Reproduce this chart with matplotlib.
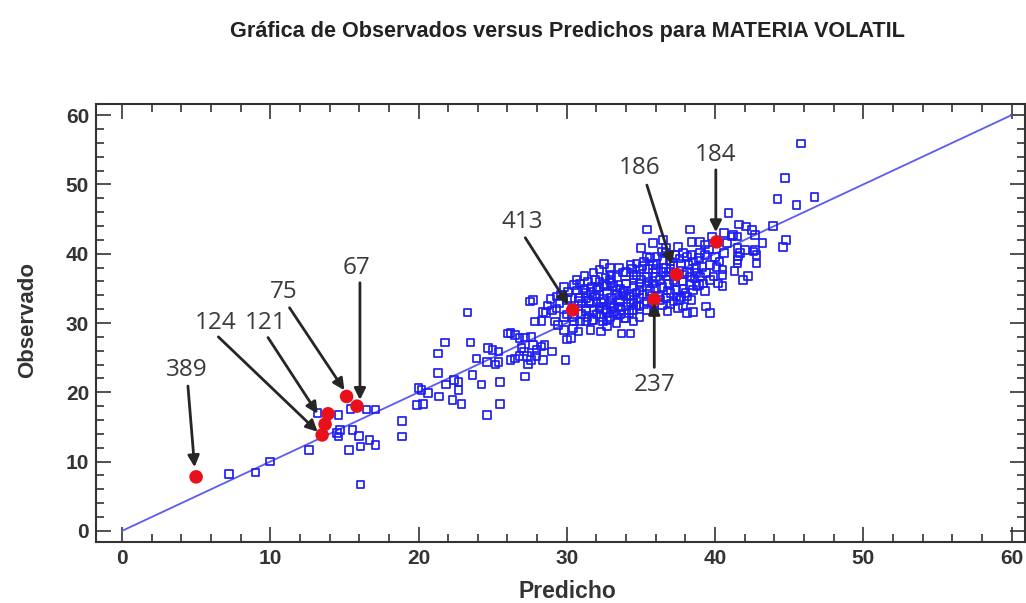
import matplotlib
matplotlib.use("Agg")
import matplotlib.pyplot as plt
from matplotlib.ticker import MultipleLocator

# Predicted (x) and observed (y) values of volatile matter for the sample
predicho = [
    7.2, 9.0, 10.0, 12.6,
    13.2, 14.6, 15.4, 16.5, 17.1,
    14.5, 14.6, 14.7, 15.55, 16.0, 16.7, 17.1, 15.3, 16.1, 16.1,
    18.9, 18.9,
    20.0, 20.2, 20.65, 19.9, 20.3,
    23.3, 26.05, 21.8, 23.5, 21.3, 24.7, 25.0, 25.4, 23.9, 24.6, 25.2, 25.4,
    21.3, 23.65, 22.4, 22.7, 21.85, 22.7, 24.25, 25.5, 21.4, 22.3, 22.9, 25.5, 24.6,
    27.5, 27.7, 28.4, 28.6, 27.85, 28.3, 29.2, 29.4, 29.8,
    26.2, 26.5, 26.8, 27.2, 27.6,
    26.95, 27.1, 27.7, 28.3, 28.5, 27.95,
    26.2, 26.5, 26.8, 27.3, 27.6, 27.95, 28.4, 29.0, 27.4, 29.9, 27.2,
    30.3, 30.4, 30.8, 30.0,
    31.6, 32.3, 32.7, 33.7, 34.3,
    30.5, 31.3, 31.8, 32.45, 32.7, 33.35, 34.5,
    30.65, 31.45, 31.9, 32.2, 32.6, 32.9,
    31.1, 31.6,
    30.9, 31.3, 31.9, 32.2, 32.7, 30.0, 30.3,
    30.0, 30.4, 31.3, 31.8, 32.2,
    30.9, 31.7, 32.9, 33.6, 33.9,
    33.2, 33.6, 34.3, 34.5, 34.4,
    33.1, 33.6, 34.0, 34.5, 34.7,
    32.2, 32.9, 34.3, 34.7,
    35.4, 40.9, 38.3, 41.6, 42.1, 42.5, 42.7, 41.2, 41.5,
    38.4, 39.0, 39.3, 40.8,
    41.5, 41.7, 41.55, 42.0, 42.7, 42.8, 41.5,
    35.0, 36.4, 36.7, 37.85, 38.1, 38.4, 39.0, 39.3, 38.9,
    39.1, 39.65, 40.1, 40.5, 40.3,
    38.75, 39.4, 39.9, 40.5, 40.5, 40.2,
    36.3, 36.7, 37.2, 37.6, 38.1, 38.4,
    37.4, 37.85, 38.3, 38.75, 39.2, 39.65,
    34.0, 34.5, 34.9, 35.4, 35.8, 36.3, 34.9, 34.5, 34.0, 35.4, 35.8, 36.5,
    34.0, 34.5, 34.9, 35.4, 33.6, 34.0, 34.5,
    36.5, 36.95, 36.05, 35.6, 35.2,
    36.7, 37.2, 37.85, 38.3, 38.1, 38.75,
    38.1, 38.5, 37.85, 39.65, 39.4,
    45.8, 44.7, 44.2, 46.7, 45.5, 43.9,
    43.2, 44.8, 44.6, 41.5, 42.6, 42.8, 41.1,
    35.4, 35.8, 36.7,
    31.3, 32.0, 32.7, 33.35, 33.8, 34.9,
    31.6, 32.2, 32.9, 33.6, 34.3, 34.9, 35.4,
    31.3, 32.0, 32.7, 33.35, 34.9, 34.0, 37.4,
    38.5, 38.9,
    29.5, 29.3, 29.8, 29.3, 30.1, 30.9,
    41.3, 42.2, 41.9,
    31.0, 31.5, 32.0, 32.5, 33.0, 33.4, 33.9, 34.2, 34.7, 35.1, 35.6, 36.0,
    36.4, 36.9, 37.3, 37.0, 36.2, 35.7, 35.2, 34.7, 34.2, 33.7, 33.2, 32.6,
    32.3, 31.4, 31.0,
    35.0, 35.5, 36.0, 36.0, 35.5, 35.1, 34.4, 33.8, 33.4, 33.0, 32.5, 32.1,
    31.7, 31.2, 30.7,
    36.9, 37.2, 37.7, 38.2, 38.5, 37.6, 37.3, 36.1, 36.7, 37.5, 37.0, 37.9,
    38.6, 39.0, 39.3, 38.0, 37.7, 36.8,
    35.8, 36.5, 39.6, 40.0, 40.6, 39.8, 40.6,
    33.0, 33.5, 32.5, 31.8, 31.2, 30.5, 29.8, 29.6, 28.9, 28.7, 29.0,
    30.8, 32.3, 33.0, 35.9, 36.4, 37.0, 37.5, 36.8,
]
observado = [
    8.2, 8.4, 10.0, 11.7,
    17.0, 16.7, 17.6, 17.5, 17.5,
    14.1, 13.6, 14.6, 14.6, 13.7, 13.1, 12.4, 11.7, 12.2, 6.7,
    15.9, 13.6,
    20.6, 20.3, 19.9, 18.2, 18.3,
    31.5, 28.5, 27.2, 27.2, 25.6, 26.4, 26.1, 25.9, 24.9, 24.4, 24.0, 24.4,
    22.8, 22.5, 21.8, 21.5, 21.1, 20.3, 21.1, 21.5, 19.4, 18.9, 18.3, 18.3, 16.7,
    33.1, 33.3, 31.6, 31.4, 30.2, 30.3, 30.2, 29.7, 29.0,
    28.6, 28.3, 27.8, 27.9, 28.0,
    26.4, 25.9, 26.8, 26.6, 26.8, 26.1,
    24.7, 24.9, 25.2, 25.2, 24.7, 25.2, 24.7, 25.9, 24.0, 24.7, 22.3,
    27.8, 29.2, 28.8, 27.6,
    29.0, 28.8, 29.5, 28.5, 28.5,
    30.2, 30.2, 30.4, 30.2, 30.4, 30.0, 30.2,
    36.2, 36.0, 36.2, 36.0, 36.5, 36.2,
    34.8, 34.5,
    33.6, 33.6, 33.8, 34.1, 34.3, 33.3, 33.6,
    31.2, 30.9, 32.1, 31.9, 32.1,
    30.2, 30.4, 30.9, 31.2, 30.7,
    32.4, 33.3, 33.8, 32.9, 31.9,
    35.3, 35.0, 35.7, 36.2, 36.9,
    37.7, 37.9, 38.4, 38.6,
    43.5, 45.9, 43.5, 44.2, 43.9, 43.4, 42.7, 42.7, 42.5,
    41.7, 41.7, 41.3, 41.5,
    40.8, 40.1, 39.6, 40.5, 40.5, 39.8, 38.6,
    40.8, 40.3, 40.1, 40.1, 39.6, 39.8, 40.1, 39.8, 39.4,
    38.1, 38.4, 38.1, 37.7, 38.9,
    37.2, 37.2, 36.7, 36.9, 35.3, 35.7,
    33.3, 33.6, 33.1, 33.3, 33.8, 33.3,
    34.8, 35.0, 35.5, 35.3, 35.7, 36.2,
    37.4, 36.9, 37.7, 36.7, 37.2, 36.2, 35.7, 35.3, 35.7, 35.3, 35.7, 37.4,
    33.8, 33.3, 33.6, 33.1, 33.1, 32.4, 31.9,
    39.1, 38.9, 38.6, 39.4, 38.9,
    36.7, 36.2, 36.0, 36.7, 37.4, 37.9,
    31.4, 31.6, 32.4, 31.4, 32.4,
    55.9, 50.9, 47.9, 48.2, 47.0, 44.0,
    41.5, 42.0, 41.0, 39.1, 40.3, 38.6, 42.5,
    39.6, 38.4, 37.9,
    34.3, 34.8, 35.3, 34.8, 34.3, 34.8,
    32.9, 32.4, 32.9, 32.4, 32.9, 32.4, 31.9,
    31.7, 31.2, 31.4, 31.2, 30.9, 30.7, 33.8,
    34.8, 35.5,
    32.9, 32.1, 30.9, 33.8, 34.5, 35.7,
    37.5, 36.8, 36.2,
    32.8, 33.2, 33.0, 33.5, 33.7, 34.0, 34.6, 34.0, 34.4, 34.1, 34.6, 34.9,
    35.2, 35.6, 35.9, 34.3, 33.9, 33.9, 32.7, 32.5, 31.4, 31.9, 31.6, 31.9,
    30.9, 30.8, 31.3,
    36.3, 36.0, 36.6, 37.8, 37.8, 38.2, 37.8, 37.3, 36.6, 35.8, 35.6, 35.2,
    35.2, 35.0, 34.7,
    37.4, 38.2, 38.6, 38.4, 38.9, 39.3, 39.8, 39.6, 40.8, 41.0, 37.8, 37.0,
    36.4, 36.7, 34.6, 34.3, 33.7, 34.7,
    41.5, 42.0, 40.6, 39.5, 40.1, 42.5, 43.0,
    37.0, 38.0, 38.5, 37.3, 36.8, 35.5, 35.2, 34.0, 33.5, 32.5, 31.8,
    33.2, 32.9, 32.2, 31.8, 32.6, 32.7, 32.2, 31.7,
]

# Highlighted observations (row numbers) and their values
obs_ids = ["389", "124", "121", "75", "67", "413", "237", "186", "184"]
obs_pred = [5.0, 13.5, 13.7, 15.15, 15.85, 30.4, 35.9, 37.4, 40.1]
obs_obs = [7.8, 13.85, 15.4, 19.4, 18.0, 31.9, 33.4, 37.0, 41.7]
extra_pred = [13.9]
extra_obs = [16.9]

# Label anchor and arrow start for each highlighted observation
label_x = [4.4, 6.3, 9.7, 10.9, 15.85, 27.0, 35.9, 34.9, 40.05]
label_y = [23.2, 30.0, 30.0, 34.5, 38.0, 44.6, 21.1, 52.4, 54.3]
tail_x = [4.45, 6.5, 9.85, 11.3, 16.05, 27.2, 35.9, 35.4, 40.05]
tail_y = [20.9, 28.0, 27.9, 32.2, 35.8, 42.3, 23.6, 49.9, 52.1]
tip_x = [4.9, 13.2, 13.2, 15.0, 16.05, 30.1, 35.9, 37.1, 40.05]
tip_y = [9.2, 14.3, 16.9, 20.3, 18.9, 32.6, 32.9, 38.4, 43.1]

line_ends = [0, 60]

W, H = 1026, 603
fig = plt.figure(figsize=(W / 100, H / 100), dpi=100)
ax = fig.add_axes([96 / W, 1 - 542 / H, (1025 - 96) / W, (542 - 104) / H])

tick_font = ["Liberation Sans", "DejaVu Sans"]

ax.plot(line_ends, line_ends, color="#5b5bf0", lw=1.3, zorder=2)
ax.scatter(predicho, observado, marker="s", s=30, facecolors="none",
           edgecolors="#1f1ff0", linewidths=1.25, zorder=3)
ax.scatter(obs_pred + extra_pred, obs_obs + extra_obs, marker="o", s=95,
           color="#e8101a", edgecolors="none", zorder=4)

for i, lab in enumerate(obs_ids):
    ax.annotate("", xy=(tip_x[i], tip_y[i]), xytext=(tail_x[i], tail_y[i]),
                arrowprops=dict(arrowstyle="-|>", color="#262626", lw=2.0,
                                mutation_scale=17, shrinkA=0, shrinkB=0),
                zorder=5)
    ax.text(label_x[i], label_y[i], lab, ha="center", va="center",
            fontsize=17.5, color="#3a3a3a", family=["Open Sans", "DejaVu Sans"],
            zorder=6)

ax.set_xlim(-1.75, 60.9)
ax.set_ylim(-1.6, 61.6)
ax.xaxis.set_major_locator(MultipleLocator(10))
ax.xaxis.set_minor_locator(MultipleLocator(2))
ax.yaxis.set_major_locator(MultipleLocator(10))
ax.yaxis.set_minor_locator(MultipleLocator(2))
ax.tick_params(which="both", direction="in", top=True, right=True,
               color="#333333", width=1.2)
ax.tick_params(which="major", length=11, pad=5)
ax.tick_params(which="minor", length=6)
for lbl in ax.get_xticklabels() + ax.get_yticklabels():
    lbl.set_family(tick_font)
    lbl.set_fontweight("bold")
    lbl.set_fontsize(15)
    lbl.set_color("#333333")
for sp in ax.spines.values():
    sp.set_color("#333333")
    sp.set_linewidth(1.5)

fig.text(567 / W, 1 - 592 / H, "Predicho", ha="center", va="center",
         fontsize=16.5, fontweight="bold", color="#333333", family=tick_font)
fig.text(28 / W, 1 - 320 / H, "Observado", ha="center", va="center",
         rotation=90, fontsize=16, fontweight="bold", color="#333333",
         family=tick_font)
fig.text(567 / W, 1 - 32 / H,
         "Gráfica de Observados versus Predichos para MATERIA VOLATIL",
         ha="center", va="center", fontsize=15.6, fontweight="bold",
         color="#222222", family=tick_font)

fig.savefig("out.png", dpi=100)
